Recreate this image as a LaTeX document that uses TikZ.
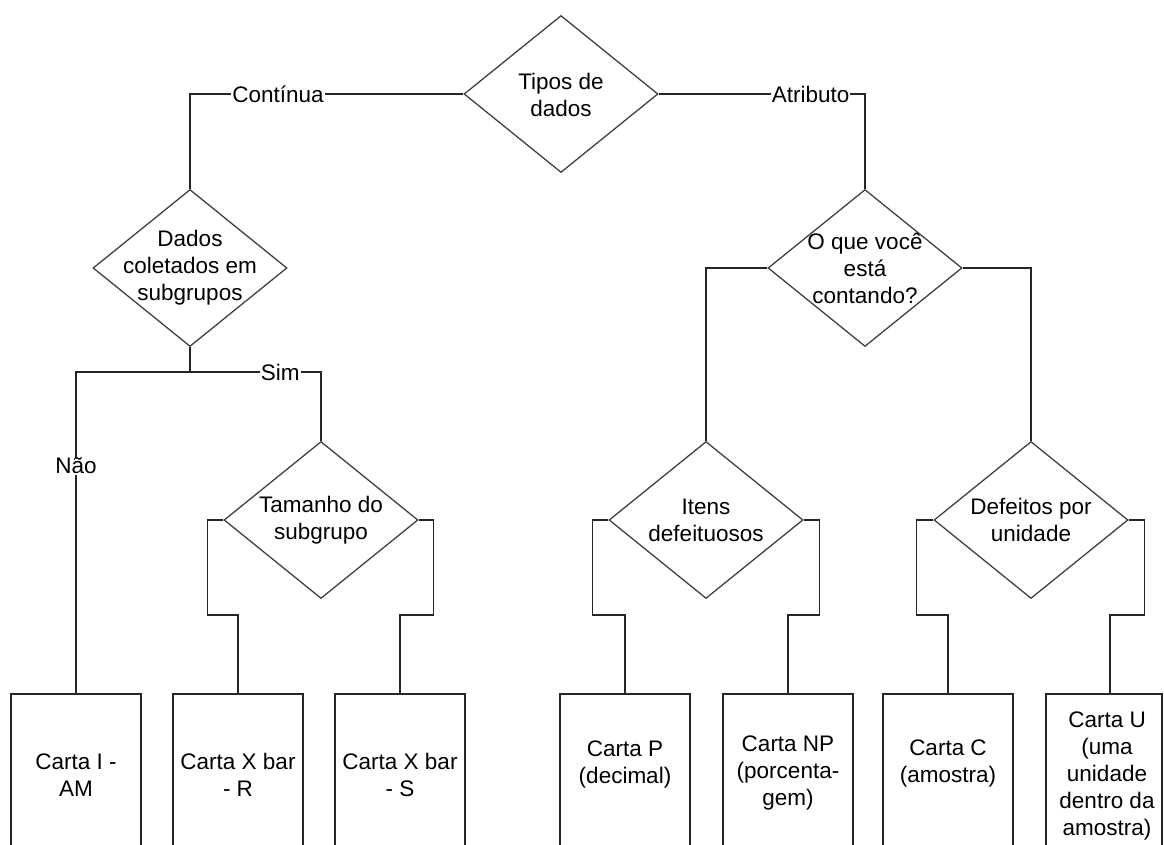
\documentclass[tikz,border=0pt]{standalone}
\usepackage{fontspec}
\setmainfont{Liberation Sans}
\usetikzlibrary{shapes.geometric}
\begin{document}
\begin{tikzpicture}[x=1pt,y=-1pt,
  txt/.style={font=\fontsize{22.5}{27}\selectfont, align=center, inner sep=0pt},
  decision/.style={draw=black!75, line width=1.3pt, shape=diamond,
    minimum width=194pt, minimum height=157pt, inner sep=0pt},
  cbox/.style={draw=black!85, line width=1.6pt, anchor=north,
    minimum width=130pt, minimum height=200pt, inner sep=0pt},
  link/.style={draw=black!85, line width=1.6pt},
  tag/.style={txt, fill=white, inner sep=1pt}]
\useasboundingbox (0,0) rectangle (1164,845);
\clip (0,0) rectangle (1164,845);

% decisions
\node[decision] (d0) at (561,94) {};
\node[txt] (d0t) at (561,95) {Tipos de\\dados};
\node[decision] (d1) at (190,268) {};
\node[txt] (d1t) at (190,268) {Dados\\coletados em\\subgrupos};
\node[decision] (d2) at (321,520) {};
\node[txt] (d2t) at (321,520) {Tamanho do\\subgrupo};
\node[decision] (d3) at (865,268) {};
\node[txt] (d3t) at (865,268) {O que você\\está\\contando?};
\node[decision] (d4) at (706,520) {};
\node[txt] (d4t) at (706,520) {Itens\\defeituosos};
\node[decision] (d5) at (1031,520) {};
\node[txt] (d5t) at (1031,520) {Defeitos por\\unidade};

% chart boxes
\node[cbox] (c1) at (76,693) {};
\node[cbox] (c2) at (238,693) {};
\node[cbox] (c3) at (400,693) {};
\node[cbox] (c4) at (625,693) {};
\node[cbox] (c5) at (788,693) {};
\node[cbox] (c6) at (948,693) {};
\node[cbox, minimum width=116pt] (c7) at (1104,693) {};
\node[txt] (c1t) at (76,775) {Carta I -\\AM};
\node[txt] (c2t) at (238,775) {Carta X bar\\- R};
\node[txt] (c3t) at (400,775) {Carta X bar\\- S};
\node[txt] (c4t) at (625,764) {Carta P\\(decimal)};
\node[txt] (c5t) at (788,773) {Carta NP\\(porcenta-\\gem)};
\node[txt] (c6t) at (948,763) {Carta C\\(amostra)};
\node[txt] (c7t) at (1107,776) {Carta U\\(uma\\unidade\\dentro da\\amostra)};

% data type branches
\draw[link] (d0.west) -| node[tag, pos=0.339] {Contínua} (d1.north);
\draw[link] (d0.east) -| node[tag, pos=0.368] {Atributo} (d3.north);

% subgroup question
\draw[link] (d1.south) -- ++(0,25) coordinate (j1);
\draw[link] (c1.north) |- node[tag, pos=0.354] {Não} (j1);
\draw[link] (j1) -| node[tag, pos=0.344] {Sim} (d2.north);

% subgroup size
\draw[link] (d2.west) -- ++(-16,0) |- ([yshift=78pt]c2.north) -- (c2.north);
\draw[link] (d2.east) -- ++(15,0) |- ([yshift=78pt]c3.north) -- (c3.north);

% counting question
\draw[link] (d3.west) -| (d4.north);
\draw[link] (d3.east) -| (d5.north);

% defective items
\draw[link] (d4.west) -- ++(-16,0) |- ([yshift=78pt]c4.north) -- (c4.north);
\draw[link] (d4.east) -- ++(16,0) |- ([yshift=78pt]c5.north) -- (c5.north);

% defects per unit
\draw[link] (d5.west) -- ++(-17,0) |- ([yshift=78pt]c6.north) -- (c6.north);
\draw[link] (d5.east) -- ++(16,0) |- ([xshift=6pt,yshift=78pt]c7.north) -- ([xshift=6pt]c7.north);
\end{tikzpicture}
\end{document}
